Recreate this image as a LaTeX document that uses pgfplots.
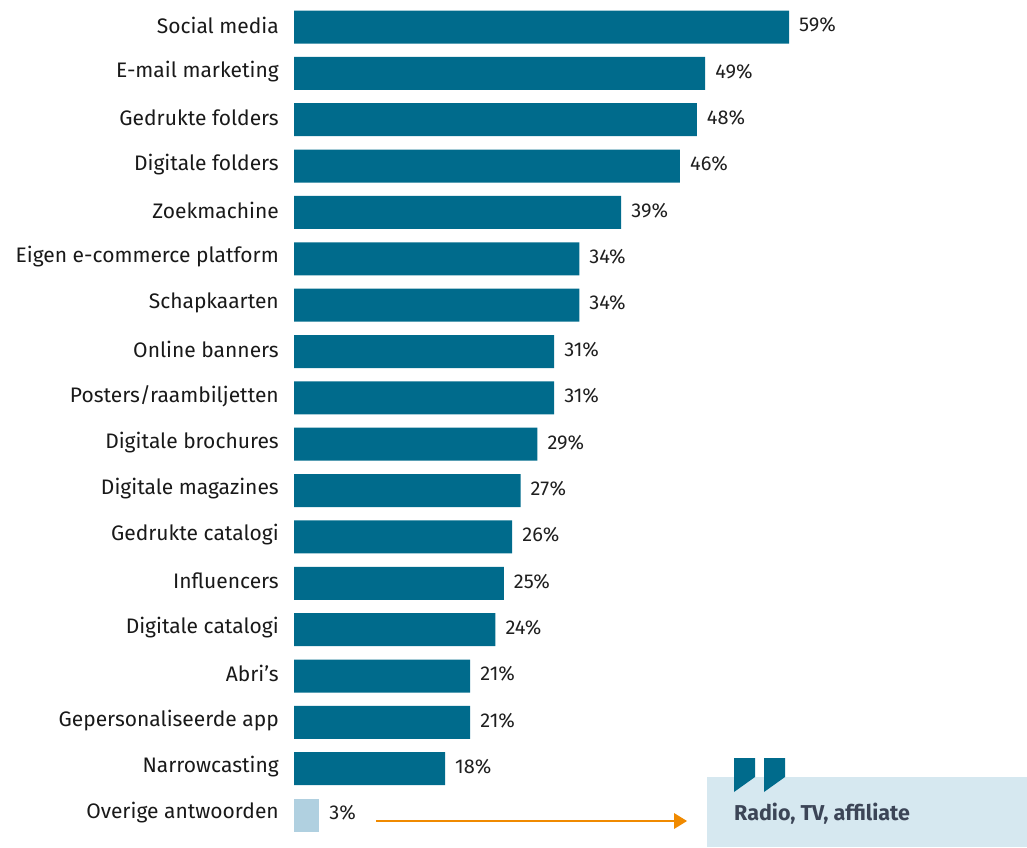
\documentclass[border=0pt]{standalone}
\usepackage{fontspec}
\setmainfont{Fira Sans}
\usepackage{pgfplots}
\pgfplotsset{compat=1.18}
\definecolor{barc}{RGB}{0,107,140}
\definecolor{lightbar}{RGB}{176,208,224}
\definecolor{boxc}{RGB}{214,232,240}
\definecolor{txtc}{RGB}{60,69,87}
\definecolor{orangec}{RGB}{240,138,0}
\begin{document}
\begin{tikzpicture}
\begin{axis}[
  name=ax,
  at={(0,0)}, anchor=north west,
  scale only axis,
  width=733pt, height=847pt,
  xbar, bar shift=0pt, bar width=33pt,
  xmin=0, xmax=87.36,
  ymin=-0.5825, ymax=17.6894,
  y dir=reverse,
  axis lines=none,
  clip=false,
  ytick=\empty,
  /pgf/number format/assume math mode=true,
  nodes near coords={\pgfmathprintnumber\pgfplotspointmeta\%},
  every node near coord/.append style={font=\fontsize{20}{22}\selectfont, text=black!88, anchor=west, inner sep=0pt, xshift=10pt, yshift=2pt},
]
\addplot[fill=barc, draw=none] coordinates {
(59,0) (49,1) (48,2) (46,3) (39,4) (34,5) (34,6) (31,7) (31,8) (29,9) (27,10) (26,11) (25,12) (24,13) (21,14) (21,15) (18,16)};
\addplot[fill=lightbar, draw=none] coordinates {(3,17)};
\end{axis}
\begin{scope}[shift={(ax.north west)}, x=1pt, y=-1pt, xshift=-294pt]
  \foreach \lab [count=\i from 0] in {Social media,E-mail marketing,Gedrukte folders,Digitale folders,Zoekmachine,Eigen e-commerce platform,Schapkaarten,Online banners,Posters/raambiljetten,Digitale brochures,Digitale magazines,Gedrukte catalogi,Influencers,Digitale catalogi,Abri’s,Gepersonaliseerde app,Narrowcasting,Overige antwoorden}{
    \node[anchor=east, inner sep=0pt, font=\fontsize{21}{23}\selectfont, text=black!90] at (279, {25+46.35*\i}) {\lab};
  }
  \fill[boxc] (707,777) rectangle (1027,847);
  \fill[barc] (734,758) -- (755,758) -- (755,777) -- (734,792) -- cycle;
  \fill[barc] (764,758) -- (785,758) -- (785,777) -- (764,792) -- cycle;
  \node[anchor=base west, inner sep=0pt, font=\fontsize{21.5}{23}\selectfont\bfseries, text=txtc] at (734,820) {Radio, TV, affiliate};
  \draw[orangec, line width=2.5pt] (376,821) -- (676,821);
  \fill[orangec] (674,813) -- (687,821) -- (674,829) -- cycle;
  \path[use as bounding box] (0,0) rectangle (1027,847);
\end{scope}
\end{tikzpicture}
\end{document}
